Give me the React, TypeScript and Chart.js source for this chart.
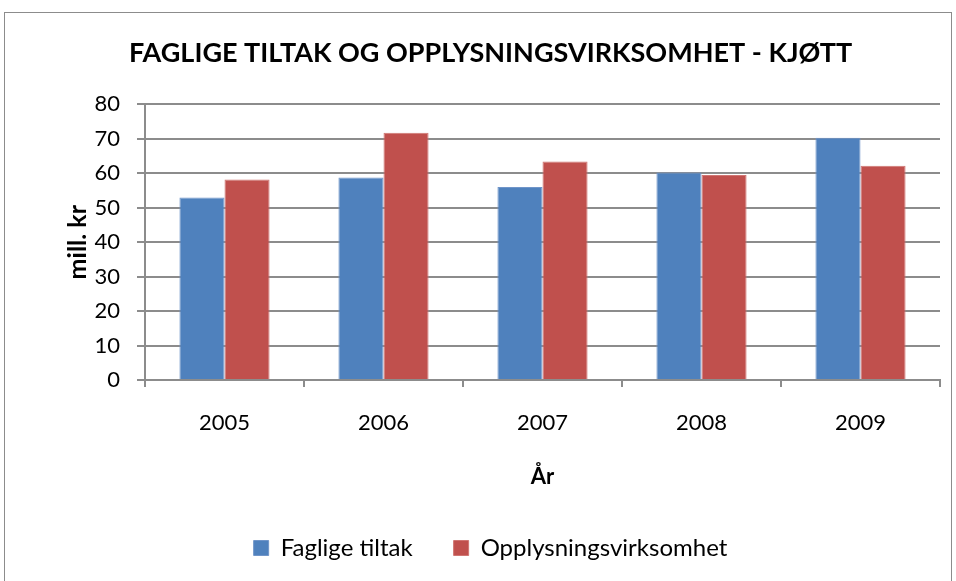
import React, { useEffect, useRef } from "react";
import { Chart, registerables } from "chart.js";

Chart.register(...registerables);

const years = ["2005", "2006", "2007", "2008", "2009"];
const fagligeTiltak = [53.0, 58.8, 56.0, 60.2, 70.3];
const opplysningsvirksomhet = [58.2, 71.8, 63.4, 59.5, 62.2];
const yTicks = [0, 10, 20, 30, 40, 50, 60, 70, 80];

const FONT = "Lato, 'Open Sans', sans-serif";
const GRID = "#8c8c8c";

export default function App() {
  const ref = useRef<HTMLCanvasElement | null>(null);

  useEffect(() => {
    if (!ref.current) return;
    const chart = new Chart(ref.current, {
      type: "bar",
      data: {
        labels: years,
        datasets: [
          {
            label: "Faglige tiltak",
            data: fagligeTiltak,
            backgroundColor: "#4F81BD",
            borderColor: "#7095c9",
            borderWidth: 1,
            barPercentage: 1,
            categoryPercentage: 0.567,
          },
          {
            label: "Opplysningsvirksomhet",
            data: opplysningsvirksomhet,
            backgroundColor: "#C0504D",
            borderColor: "#d07572",
            borderWidth: 1,
            barPercentage: 1,
            categoryPercentage: 0.567,
          },
        ],
      },
      options: {
        animation: false,
        responsive: false,
        maintainAspectRatio: false,
        layout: { padding: { left: 36, right: 11, top: 0, bottom: 11 } },
        plugins: {
          title: {
            display: true,
            text: "FAGLIGE TILTAK OG OPPLYSNINGSVIRKSOMHET - KJØTT",
            color: "#000",
            font: { family: FONT, size: 27, weight: "bold", lineHeight: 1.2 },
            padding: { top: 24, bottom: 35 },
          },
          legend: {
            position: "bottom",
            labels: {
              color: "#000",
              font: { family: FONT, size: 24 },
              boxWidth: 15,
              boxHeight: 15,
              padding: 41,
            },
          },
          tooltip: { enabled: false },
        },
        scales: {
          x: {
            offset: true,
            grid: {
              display: true,
              drawOnChartArea: false,
              drawTicks: true,
              tickLength: 7,
              color: GRID,
              lineWidth: 2,
              offset: true,
            },
            border: { display: true, color: GRID, width: 2 },
            ticks: {
              color: "#000",
              font: { family: FONT, size: 22 },
              padding: 23,
            },
            title: {
              display: true,
              text: "År",
              color: "#000",
              font: { family: FONT, size: 22, weight: "bold", lineHeight: 1.2 },
              padding: { top: 0, bottom: 5 },
            },
            afterFit: (scale: any) => {
              scale.height = 115;
            },
          },
          y: {
            min: 0,
            max: 80,
            afterBuildTicks: (scale: any) => {
              scale.ticks = yTicks.map((v) => ({ value: v }));
            },
            grid: {
              color: GRID,
              lineWidth: 2,
              tickLength: 8,
              drawTicks: true,
            },
            border: { display: true, color: GRID, width: 2 },
            ticks: {
              color: "#000",
              font: { family: FONT, size: 22 },
              padding: 17,
            },
            title: {
              display: true,
              text: "mill. kr",
              color: "#000",
              font: { family: FONT, size: 25, weight: "bold", lineHeight: 1.2 },
              padding: { top: 22, bottom: 0 },
            },
            afterFit: (scale: any) => {
              scale.width = 104;
            },
          },
        },
      },
    });
    return () => chart.destroy();
  }, []);

  return (
    <div
      style={{
        position: "absolute",
        left: 4,
        top: 12,
        width: 946,
        height: 580,
        border: "1px solid #8c8c8c",
        background: "#fff",
      }}
    >
      <canvas ref={ref} width={946} height={568} style={{ display: "block" }} />
    </div>
  );
}
